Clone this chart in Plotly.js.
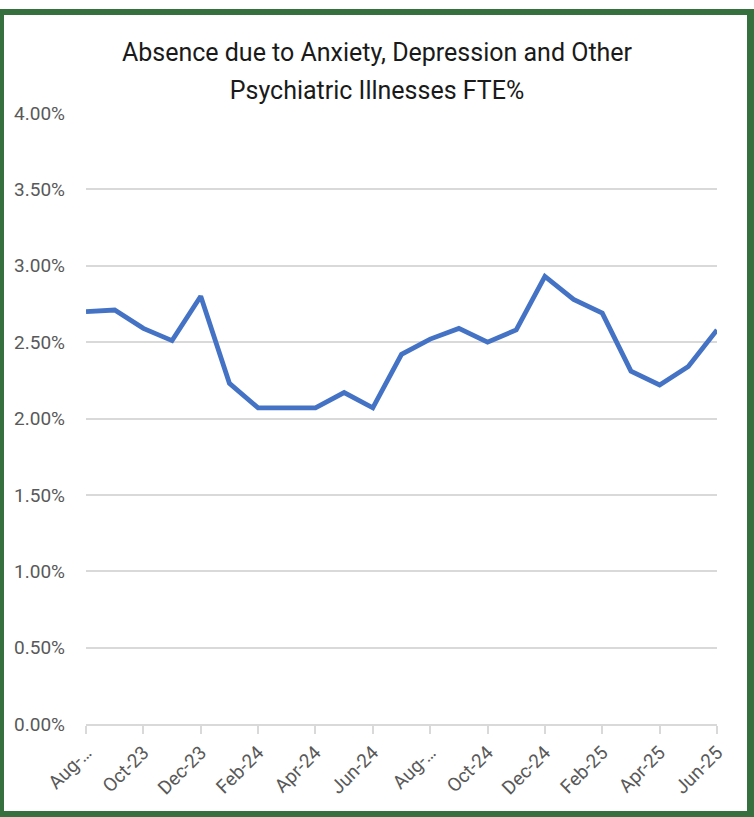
<!DOCTYPE html>
<html>
<head>
<meta charset="utf-8">
<script src="https://cdn.plot.ly/plotly-3.0.1.min.js"></script>
<style>
  html, body { margin: 0; padding: 0; background: #ffffff; width: 754px; height: 817px; overflow: hidden; }
  #chart { position: absolute; left: 0; top: 0; width: 754px; height: 817px; }
  #frame { position: absolute; left: 0; top: 9px; width: 754px; height: 808px; box-sizing: border-box;
           border-style: solid; border-color: #37703f; border-width: 6px 7px 6px 4px; pointer-events: none; }
</style>
</head>
<body>
<div id="chart"></div>
<div id="frame"></div>
<script>
const months = ["Aug-23","Sep-23","Oct-23","Nov-23","Dec-23","Jan-24","Feb-24","Mar-24","Apr-24","May-24","Jun-24","Jul-24",
                "Aug-24","Sep-24","Oct-24","Nov-24","Dec-24","Jan-25","Feb-25","Mar-25","Apr-25","May-25","Jun-25"];
const absencePct = [2.70, 2.71, 2.59, 2.51, 2.80, 2.23, 2.07, 2.07, 2.07, 2.17, 2.07, 2.42,
                    2.52, 2.59, 2.50, 2.58, 2.93, 2.78, 2.69, 2.31, 2.22, 2.34, 2.58];
const tickMonths = ["Aug-23","Oct-23","Dec-23","Feb-24","Apr-24","Jun-24","Aug-24","Oct-24","Dec-24","Feb-25","Apr-25","Jun-25"];
const tickLabels = ["Aug-…","Oct-23","Dec-23","Feb-24","Apr-24","Jun-24","Aug-…","Oct-24","Dec-24","Feb-25","Apr-25","Jun-25"];
const titleLines = ["Absence due to Anxiety, Depression and Other", "Psychiatric Illnesses FTE%"];

const FONT = "Roboto, sans-serif";

const trace = {
  type: "scatter",
  mode: "lines",
  x: months,
  y: absencePct.map(v => v / 100),
  line: { color: "#4472C4", width: 4.8 },
  hoverinfo: "x+y"
};

const layout = {
  width: 754, height: 817,
  margin: { l: 86, r: 37, t: 113, b: 93 },
  paper_bgcolor: "#ffffff",
  plot_bgcolor: "#ffffff",
  showlegend: false,
  font: { family: FONT, color: "#595959" },
  title: {
    text: titleLines.map(t => '<span style="font-size:25px">' + t + '</span>').join("<br>"),
    font: { family: FONT, size: 29, color: "#1a1a1a" },
    x: 0.5, xref: "container", xanchor: "center",
    y: 0.925, yref: "container", yanchor: "top"
  },
  xaxis: {
    type: "category",
    range: [0, months.length - 1],
    tickmode: "array",
    tickvals: tickMonths,
    ticktext: tickLabels,
    tickangle: -45,
    ticks: "outside",
    ticklen: 8,
    tickwidth: 2,
    tickcolor: "#d9d9d9",
    showline: true,
    linecolor: "#d9d9d9",
    linewidth: 2,
    showgrid: false,
    zeroline: false,
    tickfont: { size: 19, color: "#595959" },
    fixedrange: true
  },
  yaxis: {
    range: [0, 0.04],
    dtick: 0.005,
    tick0: 0,
    tickformat: ".2%",
    showgrid: true,
    gridcolor: "#d9d9d9",
    gridwidth: 2,
    zeroline: false,
    showline: false,
    ticks: "",
    ticklabelstandoff: 20,
    tickfont: { size: 19, color: "#595959" },
    fixedrange: true
  }
};

Plotly.newPlot("chart", [trace], layout, { displayModeBar: false, staticPlot: true });
</script>
</body>
</html>
